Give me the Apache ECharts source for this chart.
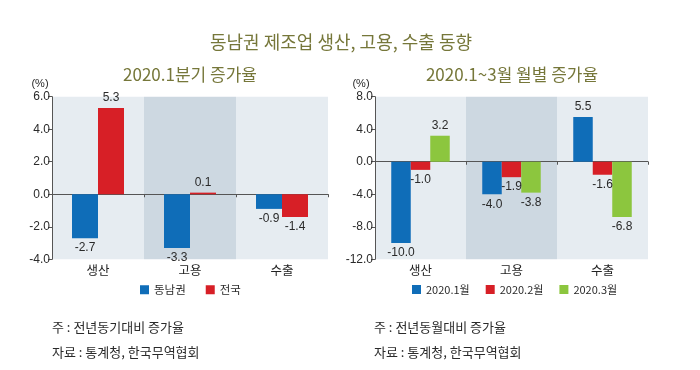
<!DOCTYPE html>
<html><head><meta charset="utf-8">
<script src="https://cdn.jsdelivr.net/npm/echarts@6/dist/echarts.min.js"></script>
<style>html,body{margin:0;padding:0;background:#fff}#c{width:700px;height:370px}</style>
</head><body><div id="c"></div>
<script>
var categories = ['생산', '고용', '수출'];
var leftSeriesNames = ['동남권', '전국'];
var leftDongnam = [-2.7, -3.3, -0.9];
var leftNational = [5.3, 0.1, -1.4];
var rightSeriesNames = ['2020.1월', '2020.2월', '2020.3월'];
var rightJan = [-10.0, -4.0, 5.5];
var rightFeb = [-1.0, -1.9, -1.6];
var rightMar = [3.2, -3.8, -6.8];
var colors = ['#0f6db8', '#d71f26', '#8cc63e'];

var NUMF = 'Liberation Sans, Arial, "Noto Sans CJK KR", sans-serif';
var KRF = '"Noto Sans CJK KR", sans-serif';
var TXT = '#2a2a2a';

function mkData(arr) {
  return arr.map(function (v) {
    return { value: v, label: { position: v >= 0 ? 'top' : 'bottom' } };
  });
}
function mkSeries(name, arr, color, xi, yi, bw) {
  return {
    name: name, type: 'bar', xAxisIndex: xi, yAxisIndex: yi,
    data: mkData(arr), barWidth: bw, barGap: '0%',
    itemStyle: { color: color },
    label: { show: true, distance: 4, color: TXT, fontSize: 12, fontFamily: NUMF,
      formatter: function (p) { return p.value.toFixed(1); } }
  };
}
var bands = ['#e6ecf1', '#cdd8e1'];
function zeroAxis(gi) {
  return { type: 'category', gridIndex: gi, data: categories, boundaryGap: true,
    axisLine: { onZero: true, lineStyle: { color: '#555', width: 1 } },
    axisTick: { show: true, length: 3, lineStyle: { color: '#555' } },
    axisLabel: { show: false },
    splitArea: { show: true, areaStyle: { color: [bands[0], bands[1]] } } };
}
function labelAxis(gi) {
  return { type: 'category', gridIndex: gi, data: categories, position: 'bottom',
    axisLine: { show: false, onZero: false }, axisTick: { show: false },
    axisLabel: { margin: 5, color: '#222', fontSize: 12.5, fontFamily: KRF } };
}
function yAx(gi, min, max, interval) {
  return { type: 'value', gridIndex: gi, min: min, max: max, interval: interval,
    axisLine: { show: true, lineStyle: { color: '#555' } },
    axisTick: { show: true, length: 4, lineStyle: { color: '#555' } },
    splitLine: { show: false },
    axisLabel: { margin: 2, color: TXT, fontSize: 12, fontFamily: NUMF,
      formatter: function (v) { return v.toFixed(1); } } };
}

var chart = echarts.init(document.getElementById('c'), null, { renderer: 'canvas' });
chart.setOption({
  animation: false,
  backgroundColor: '#fff',
  grid: [
    { left: 52, top: 96.7, width: 276, height: 162.6 },
    { left: 375, top: 96.7, width: 273, height: 162.6 }
  ],
  xAxis: [zeroAxis(0), labelAxis(0), zeroAxis(1), labelAxis(1)],
  yAxis: [yAx(0, -4, 6, 2), yAx(1, -12, 8, 4)],
  legend: [
    { data: leftSeriesNames, left: 140, top: 284, itemWidth: 9, itemHeight: 9, itemGap: 20,
      textStyle: { fontSize: 11.5, color: TXT, fontFamily: KRF }, icon: 'rect', padding: 0 },
    { data: rightSeriesNames, left: 412, top: 284, itemWidth: 9, itemHeight: 9, itemGap: 16,
      textStyle: { fontSize: 11, color: TXT, fontFamily: KRF }, icon: 'rect', padding: 0 }
  ],
  series: [
    mkSeries(leftSeriesNames[0], leftDongnam, colors[0], 0, 0, 26),
    mkSeries(leftSeriesNames[1], leftNational, colors[1], 0, 0, 26),
    mkSeries(rightSeriesNames[0], rightJan, colors[0], 2, 1, 19.5),
    mkSeries(rightSeriesNames[1], rightFeb, colors[1], 2, 1, 19.5),
    mkSeries(rightSeriesNames[2], rightMar, colors[2], 2, 1, 19.5)
  ],
  graphic: [
    { type: 'text', x: 341, y: 42, style: { text: '동남권 제조업 생산, 고용, 수출 동향', fill: '#76773a', fontSize: 18, fontFamily: KRF, align: 'center', verticalAlign: 'middle' } },
    { type: 'text', x: 190, y: 75, style: { text: '2020.1분기 증가율', fill: '#76773a', fontSize: 17, fontFamily: KRF, align: 'center', verticalAlign: 'middle' } },
    { type: 'text', x: 512, y: 75, style: { text: '2020.1~3월 월별 증가율', fill: '#76773a', fontSize: 17, fontFamily: KRF, align: 'center', verticalAlign: 'middle' } },
    { type: 'text', x: 40, y: 84, style: { text: '(%)', fill: TXT, fontSize: 11, fontFamily: NUMF, align: 'center', verticalAlign: 'middle' } },
    { type: 'text', x: 361, y: 84, style: { text: '(%)', fill: TXT, fontSize: 11, fontFamily: NUMF, align: 'center', verticalAlign: 'middle' } },
    { type: 'text', x: 52, y: 327, style: { text: '주 : 전년동기대비 증가율', fill: TXT, fontSize: 13, fontFamily: KRF, verticalAlign: 'middle' } },
    { type: 'text', x: 52, y: 352, style: { text: '자료 : 통계청, 한국무역협회', fill: TXT, fontSize: 13, fontFamily: KRF, verticalAlign: 'middle' } },
    { type: 'text', x: 374, y: 327, style: { text: '주 : 전년동월대비 증가율', fill: TXT, fontSize: 13, fontFamily: KRF, verticalAlign: 'middle' } },
    { type: 'text', x: 374, y: 352, style: { text: '자료 : 통계청, 한국무역협회', fill: TXT, fontSize: 13, fontFamily: KRF, verticalAlign: 'middle' } }
  ]
});
</script></body></html>
